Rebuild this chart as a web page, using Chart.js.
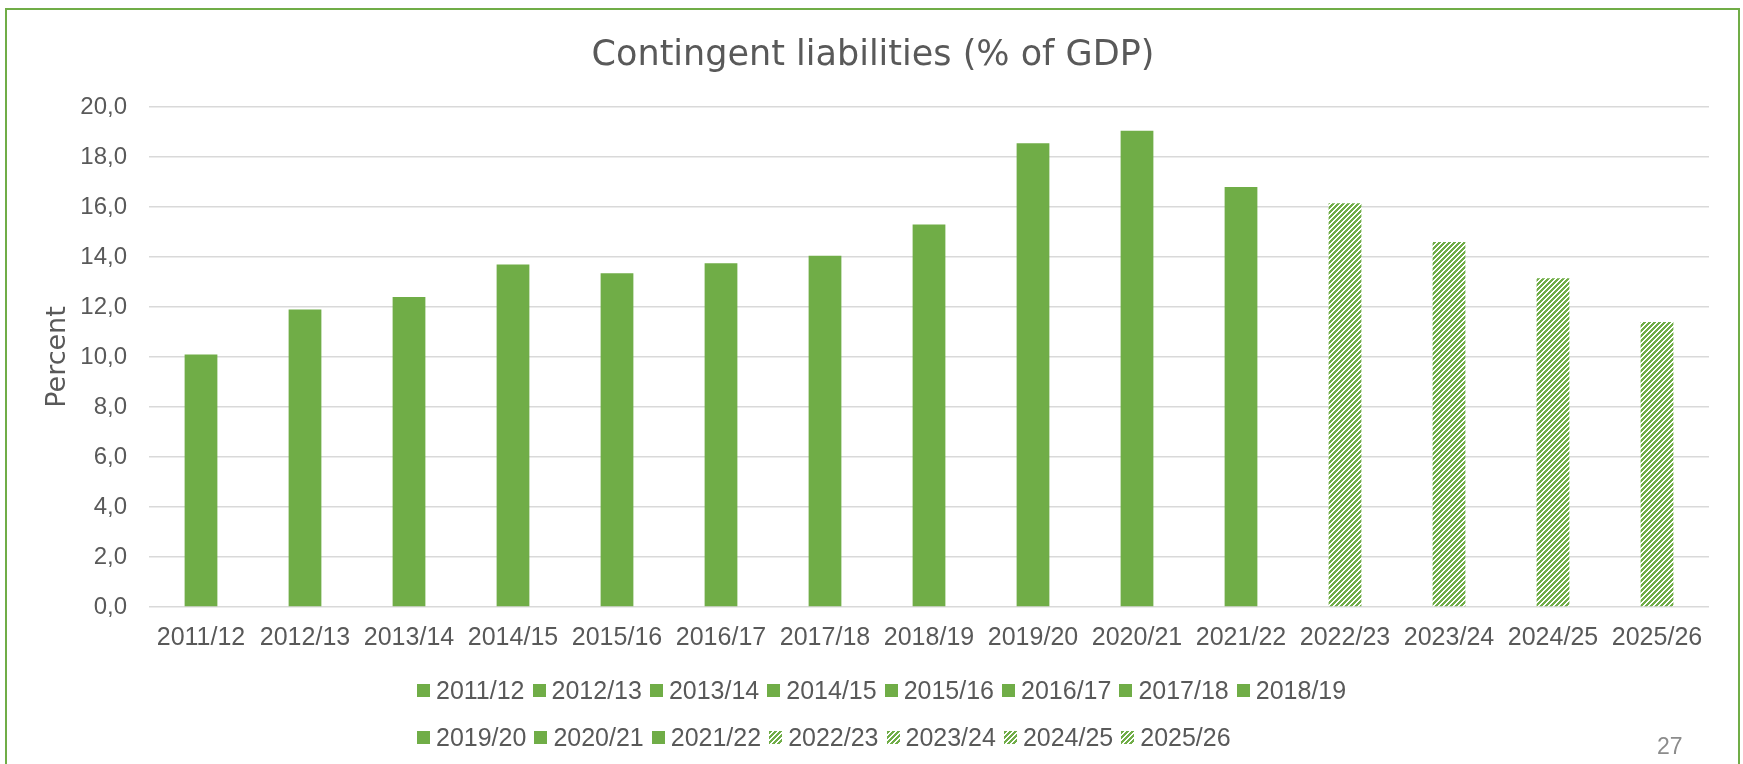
<!DOCTYPE html>
<html>
<head>
<meta charset="utf-8">
<title>Contingent liabilities</title>
<script src="https://cdn.jsdelivr.net/npm/chart.js@4.4.0/dist/chart.umd.min.js"></script>
<style>
  html, body { margin: 0; padding: 0; background: #fff; overflow: hidden; }
  #wrap { position: relative; width: 1743px; height: 764px; }
  #frame { position: absolute; left: 5px; top: 8px; width: 1731px; height: 800px; border: 2px solid #70ad47; border-bottom: none; }
  #chart { position: absolute; left: 0; top: 0; }
  #legend { position: absolute; left: 417px; top: 667px; width: 940px; display: flex; flex-wrap: wrap;
            font: 25px "Liberation Sans", Arial, sans-serif; color: #595959; line-height: 47px; }
  .item { display: flex; align-items: center; margin-right: 8px; height: 47px; }
  .swatch { width: 13px; height: 13px; margin-right: 6px; }
  #page { position: absolute; left: 1657px; top: 734px; font: 23px "Liberation Sans", Arial, sans-serif; color: #8c8c8c; line-height: 24px; }
</style>
</head>
<body>
<div id="wrap">
  <div id="frame"></div>
  <canvas id="chart" width="1743" height="764"></canvas>
  <div id="legend"></div>
  <div id="page">27</div>
</div>
<script>
const TITLE = 'Contingent liabilities (% of GDP)';
const Y_TITLE = 'Percent';
const GREEN = '#70ad47';
const TEXT = '#595959';

// financial years, outturn first then projections
const years = ['2011/12', '2012/13', '2013/14', '2014/15', '2015/16', '2016/17', '2017/18',
               '2018/19', '2019/20', '2020/21', '2021/22', '2022/23', '2023/24', '2024/25', '2025/26'];
const outturn   = [10.1, 11.9, 12.4, 13.7, 13.35, 13.75, 14.05, 15.3, 18.55, 19.05, 16.8];
const projected = [16.15, 14.6, 13.15, 11.4];

const yMin = 0;
const yMax = 20;
const yStep = 2;

const fmtTick = v => v.toFixed(1).replace('.', ',');

// upward diagonal hatch like the Excel pattern fill
const makeHatchTile = () => {
    const n = 10;
    const tile = document.createElement('canvas');
    tile.width = n;
    tile.height = n;
    const c = tile.getContext('2d');
    c.fillStyle = '#fff';
    c.fillRect(0, 0, n, n);
    c.fillStyle = GREEN;
    for (let y = 0; y < n; y++) {
        for (let x = 0; x < n; x++) {
            if ((x + y) % 5 < 3) c.fillRect(x, y, 1, 1);
        }
    }
    return tile;
}

const hatchTile = makeHatchTile();
const ctx = document.getElementById('chart').getContext('2d');
const hatch = ctx.createPattern(hatchTile, 'repeat');

const values = outturn.concat(projected);
const colours = values.map((_, i) => i < outturn.length ? GREEN : hatch);

Chart.defaults.color = TEXT;
Chart.defaults.font.family = '"Liberation Sans", Arial, sans-serif';

const chart = new Chart(ctx, {
    type: 'bar',
    data: {
        labels: years,
        datasets: [{
            label: TITLE,
            data: values,
            backgroundColor: colours,
            borderWidth: 0,
            barPercentage: 0.315,
            categoryPercentage: 1
        }]
    },
    options: {
        responsive: false,
        animation: false,
        layout: { padding: { left: 37, right: 34, top: 19, bottom: 111 } },
        plugins: {
            legend: { display: false },
            tooltip: { enabled: false },
            title: {
                display: true,
                text: TITLE,
                color: TEXT,
                font: { family: '"DejaVu Sans", sans-serif', size: 35, weight: 'normal' },
                padding: { top: 16, bottom: 30 }
            }
        },
        scales: {
            x: {
                grid: { display: false, drawTicks: false },
                border: { display: false },
                ticks: { font: { size: 25 }, padding: 16, maxRotation: 0, autoSkip: false },
                afterFit: scale => { scale.height = 46; }
            },
            y: {
                min: yMin,
                max: yMax,
                grid: { color: '#d9d9d9', lineWidth: 1.5, drawTicks: false },
                border: { display: false },
                ticks: { stepSize: yStep, font: { size: 24 }, padding: 22, callback: v => fmtTick(v) },
                title: {
                    display: true,
                    text: Y_TITLE,
                    color: TEXT,
                    font: { family: '"DejaVu Sans", sans-serif', size: 27, weight: 'normal' },
                    padding: { top: 5, bottom: 4 }
                },
                afterFit: scale => { scale.width = 112; }
            }
        }
    }
});

// legend: one entry per year, hatched swatch for projections
const legend = document.getElementById('legend');
const hatchUrl = hatchTile.toDataURL();
years.forEach((year, i) => {
    const item = document.createElement('div');
    item.className = 'item';
    const sw = document.createElement('span');
    sw.className = 'swatch';
    if (i < outturn.length) {
        sw.style.background = GREEN;
    } else {
        sw.style.backgroundImage = `url(${hatchUrl})`;
    }
    const txt = document.createElement('span');
    txt.textContent = year;
    item.appendChild(sw);
    item.appendChild(txt);
    legend.appendChild(item);
});
</script>
</body>
</html>
